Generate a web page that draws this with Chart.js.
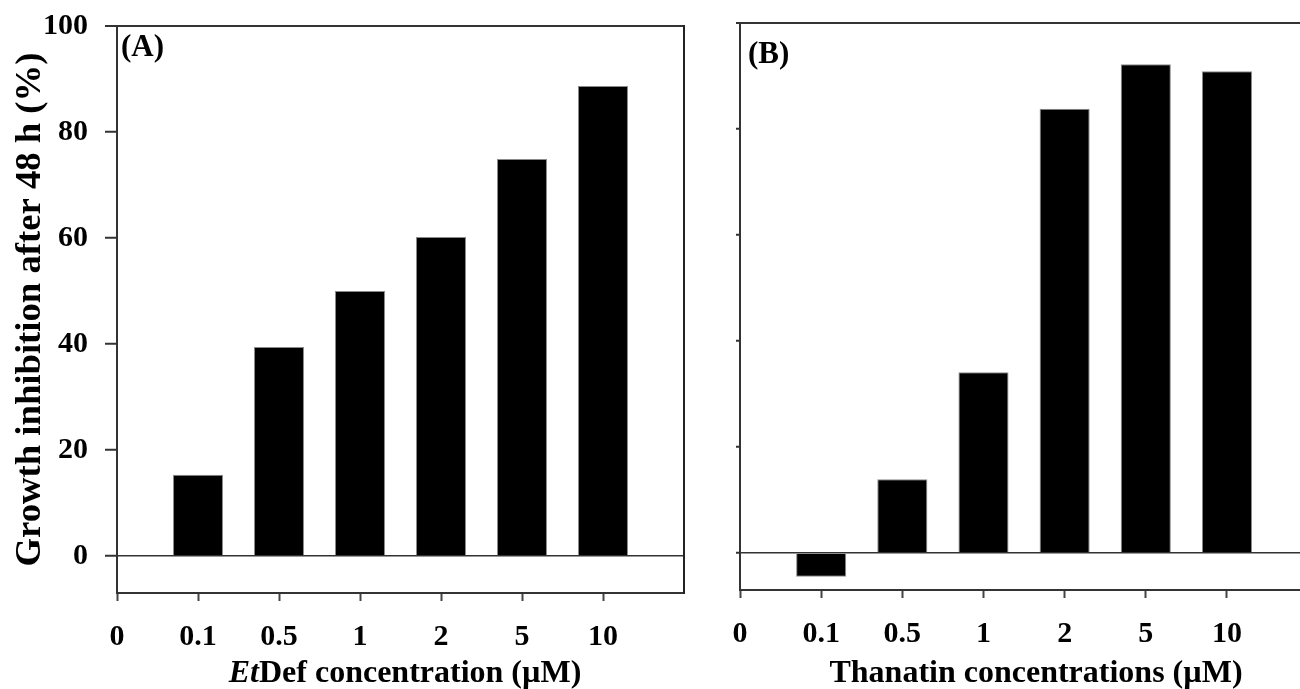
<!DOCTYPE html>
<html>
<head>
<meta charset="utf-8">
<script src="https://cdn.jsdelivr.net/npm/chart.js@4.4.1/dist/chart.umd.min.js"></script>
<style>
  body { margin: 0; background: #fff; width: 1300px; height: 689px; overflow: hidden; position: relative;
         font-family: "Liberation Serif", "Times New Roman", serif; }
  canvas { position: absolute; top: 0; }
  #chartA { left: 0; }
  #chartB { left: 700px; }
  .xtitle { position: absolute; top: 655px; font-weight: bold; font-size: 32px; line-height: 32px;
            white-space: nowrap; transform: translateX(-50%); color: #000; }
</style>
</head>
<body>
<canvas id="chartA" width="700" height="689"></canvas>
<canvas id="chartB" width="600" height="689"></canvas>
<div class="xtitle" style="left:405px"><i>Et</i>Def concentration (µM)</div>
<div class="xtitle" style="left:1036px">Thanatin concentrations (µM)</div>
<script>
// concentration labels sit on integer slots 0..6, bars on slots 1..6
const concLabels = ['0', '0.1', '0.5', '1', '2', '5', '10'];
const barSlots = [1, 2, 3, 4, 5, 6];
const etdefInhibition = [15.3, 39.4, 50.0, 60.2, 74.9, 88.7];
const thanatinInhibition = [-4.5, 13.9, 34.1, 83.8, 92.2, 90.9];
const yTicks = [0, 20, 40, 60, 80, 100];

const SERIF = '"Liberation Serif", "Times New Roman", serif';
const tickFont = { family: SERIF, size: 30, weight: 'bold' };

// draws "(A)" / "(B)" in the top-left corner of the plot
const panelLabel = {
    id: 'panelLabel',
    afterDraw(chart, args, opts) {
        const { ctx, chartArea } = chart;
        ctx.save();
        ctx.font = 'bold 31px ' + SERIF;
        ctx.fillStyle = '#000';
        ctx.textBaseline = 'alphabetic';
        ctx.fillText(opts.text, chartArea.left + opts.dx, chartArea.top + opts.dy);
        ctx.restore();
    }
};

// let the layout padding alone decide where the plot sits
function noOverhang(s) {
    s.paddingTop = 0;
    s.paddingBottom = 0;
    s.paddingLeft = 0;
    s.paddingRight = 0;
}

function makeChart(canvasId, values, cfg) {
    const scales = {
        x: {
            type: 'linear',
            min: 0,
            max: cfg.xMax,
            offset: false,
            afterBuildTicks: s => { s.ticks = concLabels.map((_, i) => ({ value: i })); },
            ticks: {
                callback: v => concLabels[v] ?? '',
                font: tickFont, color: '#000', padding: 18,
                maxRotation: 0, autoSkip: false
            },
            grid: { display: true, drawOnChartArea: false, drawTicks: true, tickLength: 8,
                    tickColor: '#444', tickWidth: 2, offset: false },
            border: { display: true, color: '#333', width: 2 },
            afterFit: s => { s.height = cfg.xHeight; noOverhang(s); }
        },
        y: {
            min: -7,
            max: 100,
            afterBuildTicks: s => { s.ticks = yTicks.map(v => ({ value: v })); },
            ticks: { display: cfg.showYLabels, font: tickFont, color: '#000', padding: 17 },
            grid: {
                color: c => (c.tick && (c.tick.value === 0 || c.tick.value === 100)) ? '#333' : 'rgba(0,0,0,0)',
                lineWidth: c => (c.tick && c.tick.value === 100) ? 2 : 1.5,
                drawTicks: true, tickLength: cfg.yTickLength, tickColor: '#333', tickWidth: 2
            },
            border: { display: true, color: '#333', width: 2 },
            title: {
                display: cfg.showYTitle,
                text: 'Growth inhibition after 48 h (%)',
                font: { family: SERIF, size: 36.7, weight: 'bold' },
                color: '#000',
                padding: { top: 9, bottom: 0 }
            },
            afterFit: s => { s.width = cfg.yWidth; noOverhang(s); }
        }
    };
    if (cfg.rightBorder) {
        scales.yr = {
            position: 'right', min: -7, max: 100,
            ticks: { display: false },
            grid: { display: false, drawTicks: false },
            border: { display: true, color: '#222', width: 2 },
            afterFit: s => { s.width = 0; noOverhang(s); }
        };
    }

    return new Chart(document.getElementById(canvasId), {
        type: 'bar',
        data: {
            datasets: [{
                data: barSlots.map((x, i) => ({ x: x, y: values[i] })),
                backgroundColor: '#000',
                borderColor: '#8a8a8a',
                borderWidth: 1,
                barPercentage: 0.617,
                categoryPercentage: 1
            }]
        },
        options: {
            responsive: false,
            animation: false,
            devicePixelRatio: 1,
            layout: { padding: cfg.padding },
            plugins: {
                legend: { display: false },
                tooltip: { enabled: false },
                panelLabel: cfg.label
            },
            scales: scales
        },
        plugins: [panelLabel]
    });
}

makeChart('chartA', etdefInhibition, {
    xMax: 7, xHeight: 96, yWidth: 117, yTickLength: 12,
    showYLabels: true, showYTitle: true, rightBorder: true,
    padding: { top: 26, right: 16, left: 0, bottom: 0 },
    label: { text: '(A)', dx: 4, dy: 30 }
});

makeChart('chartB', thanatinInhibition, {
    xMax: 6.9, xHeight: 99, yWidth: 40, yTickLength: 4,
    showYLabels: false, showYTitle: false, rightBorder: false,
    padding: { top: 23, right: 0, left: 0, bottom: 0 },
    label: { text: '(B)', dx: 8, dy: 40 }
});
</script>
</body>
</html>
